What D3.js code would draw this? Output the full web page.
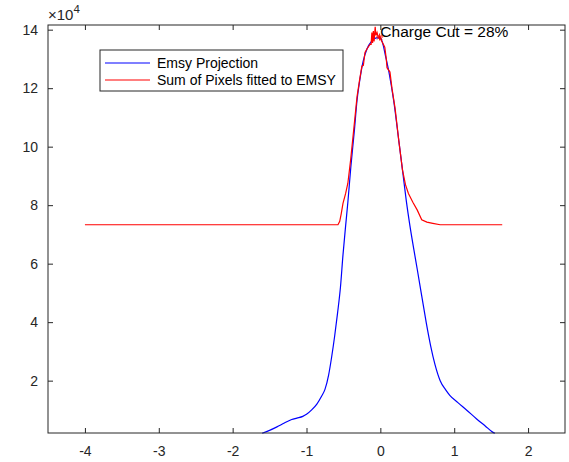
<!DOCTYPE html>
<html>
<head>
<meta charset="utf-8">
<script src="https://cdn.jsdelivr.net/npm/d3@7"></script>
<style>
body { margin: 0; background: #fff; }
text { font-family: "Liberation Sans", Arial, sans-serif; fill: #262626; }
</style>
</head>
<body>
<div id="chart"></div>
<script>
// values are in units of 1e4
var blueX = [-1.6, -1.5, -1.4, -1.3, -1.2, -1.13, -1.05, -1.0, -0.93, -0.86, -0.8, -0.75, -0.7, -0.66, -0.62, -0.58, -0.54, -0.506, -0.47, -0.44, -0.4, -0.35, -0.316, -0.28, -0.235, -0.18, -0.12, -0.05, 0, 0.03, 0.07, 0.12, 0.18, 0.25, 0.3, 0.35, 0.4, 0.455, 0.5, 0.56, 0.62, 0.68, 0.74, 0.81, 0.88, 0.94, 1.05, 1.17, 1.3, 1.42, 1.52, 1.55];
var blueY = [0.2, 0.3, 0.42, 0.55, 0.67, 0.72, 0.78, 0.85, 1.0, 1.2, 1.45, 1.7, 2.2, 2.8, 3.5, 4.3, 5.2, 6.3, 7.3, 8.1, 9.3, 10.6, 11.58, 12.25, 12.9, 13.35, 13.6, 13.72, 13.72, 13.55, 13.1, 12.5, 11.58, 10.2, 9.2, 8.17, 7.3, 6.46, 5.8, 4.9, 4.0, 3.2, 2.55, 2.0, 1.7, 1.5, 1.25, 0.99, 0.7, 0.45, 0.24, 0.2];

var redX = [-4, -0.6, -0.574, -0.55, -0.53, -0.506, -0.47, -0.44, -0.4, -0.36, -0.316, -0.28, -0.25, -0.23, -0.208, -0.18, -0.14, -0.125, -0.115, -0.105, -0.095, -0.085, -0.07, -0.06, -0.045, -0.03, 0, 0.03, 0.06, 0.08, 0.09, 0.13, 0.157, 0.2, 0.25, 0.3, 0.34, 0.38, 0.44, 0.5, 0.56, 0.63, 0.71, 0.81, 1.0, 1.65];
var redY = [7.33, 7.33, 7.33, 7.45, 7.7, 8.06, 8.4, 8.75, 9.6, 10.6, 11.7, 12.3, 12.75, 12.78, 13.22, 13.35, 13.5, 13.5, 13.9, 13.55, 13.95, 13.6, 14.1, 13.8, 13.9, 13.75, 13.7, 13.55, 13.4, 13.0, 12.7, 12.55, 12.0, 11.3, 10.2, 9.2, 8.7, 8.4, 8.1, 7.83, 7.5, 7.42, 7.38, 7.33, 7.33, 7.33];

var peakX = [-0.01];
var peakY = [13.75];

var xTicks = [-4, -3, -2, -1, 0, 1, 2];
var yTicks = [2, 4, 6, 8, 10, 12, 14];
var seriesNames = ["Emsy Projection", "Sum of Pixels fitted to EMSY"];
var seriesColors = ["#0000ff", "#ff0000"];
var noteText = "Charge Cut = 28%";

var margin = {top: 25, right: 4, bottom: 29, left: 48};
var width = 569 - margin.left - margin.right,
    height = 462 - margin.top - margin.bottom;

var svg = d3.select("#chart").append("svg")
    .attr("width", 569)
    .attr("height", 462)
    .append("g")
    .attr("transform", "translate(" + margin.left + "," + margin.top + ")");

var x = d3.scaleLinear().domain([-4.5, 2.5]).range([0, width]);
var y = d3.scaleLinear().domain([0.21, 14.16]).range([height, 0]);

var line = d3.line()
    .x(function(d) { return x(d[0]); })
    .y(function(d) { return y(d[1]); });

var blue = blueX.map(function(v, i) { return [v, blueY[i]]; });
var red = redX.map(function(v, i) { return [v, redY[i]]; });

svg.append("path")
    .datum(blue)
    .attr("fill", "none")
    .attr("stroke", seriesColors[0])
    .attr("stroke-width", 1.2)
    .attr("d", line.curve(d3.curveMonotoneX));

svg.append("path")
    .datum(red)
    .attr("fill", "none")
    .attr("stroke", seriesColors[1])
    .attr("stroke-width", 1.2)
    .attr("d", line.curve(d3.curveLinear));

// star marker at the peak
svg.selectAll(".star")
    .data(peakX)
    .enter().append("path")
    .attr("class", "star")
    .attr("transform", function(d, i) { return "translate(" + x(d) + "," + y(peakY[i]) + ")"; })
    .attr("d", "M-3.5,0H3.5M0,-3.5V3.5M-2.5,-2.5L2.5,2.5M-2.5,2.5L2.5,-2.5")
    .attr("stroke", "#ff0000")
    .attr("stroke-width", 1);

// hyphen minus like matlab
var fmt = function(d) { return String(d); };

// axes, ticks inward like matlab
var axisStyle = function(g) {
    g.attr("font-size", null);
    g.select(".domain").remove();
    g.selectAll("line").attr("stroke", "#262626");
    g.selectAll("text").style("font-size", "14px").attr("fill", "#262626");
};

svg.append("g")
    .attr("transform", "translate(0," + height + ")")
    .call(d3.axisBottom(x).tickValues(xTicks).tickSize(-5).tickPadding(13).tickFormat(fmt))
    .call(axisStyle);

svg.append("g")
    .call(d3.axisTop(x).tickValues(xTicks).tickSize(-5).tickFormat(""))
    .call(axisStyle);

svg.append("g")
    .call(d3.axisLeft(y).tickValues(yTicks).tickSize(-5).tickPadding(10).tickFormat(fmt))
    .call(axisStyle);

svg.append("g")
    .attr("transform", "translate(" + width + ",0)")
    .call(d3.axisRight(y).tickValues(yTicks).tickSize(-5).tickFormat(""))
    .call(axisStyle);

svg.append("rect")
    .attr("x", 0).attr("y", 0)
    .attr("width", width).attr("height", height)
    .attr("fill", "none")
    .attr("stroke", "#262626")
    .attr("stroke-width", 1);

// exponent label
var expo = svg.append("text")
    .attr("x", 0)
    .attr("y", -5)
    .style("font-size", "15px");
expo.append("tspan").text("\u00d710");
expo.append("tspan").attr("dy", -7).style("font-size", "11.5px").text("4");

// annotation
svg.append("text")
    .attr("x", x(0))
    .attr("y", y(13.94))
    .attr("dy", "0.35em")
    .style("font-size", "15.5px")
    .style("fill", "#000")
    .text(noteText);

// legend
var legend = svg.append("g")
    .attr("transform", "translate(" + (100 - margin.left) + "," + (50 - margin.top) + ")");

legend.append("rect")
    .attr("width", 243)
    .attr("height", 41)
    .attr("fill", "#fff")
    .attr("stroke", "#262626")
    .attr("stroke-width", 1);

var items = legend.selectAll(".item")
    .data(seriesNames)
    .enter().append("g")
    .attr("class", "item")
    .attr("transform", function(d, i) { return "translate(0," + (13 + i * 17) + ")"; });

items.append("line")
    .attr("x1", 5).attr("x2", 50)
    .attr("stroke", function(d, i) { return seriesColors[i]; })
    .attr("stroke-width", 1.2);

items.append("text")
    .attr("x", 57)
    .attr("dy", "0.35em")
    .style("font-size", "14px")
    .style("fill", "#000")
    .text(function(d) { return d; });
</script>
</body>
</html>
